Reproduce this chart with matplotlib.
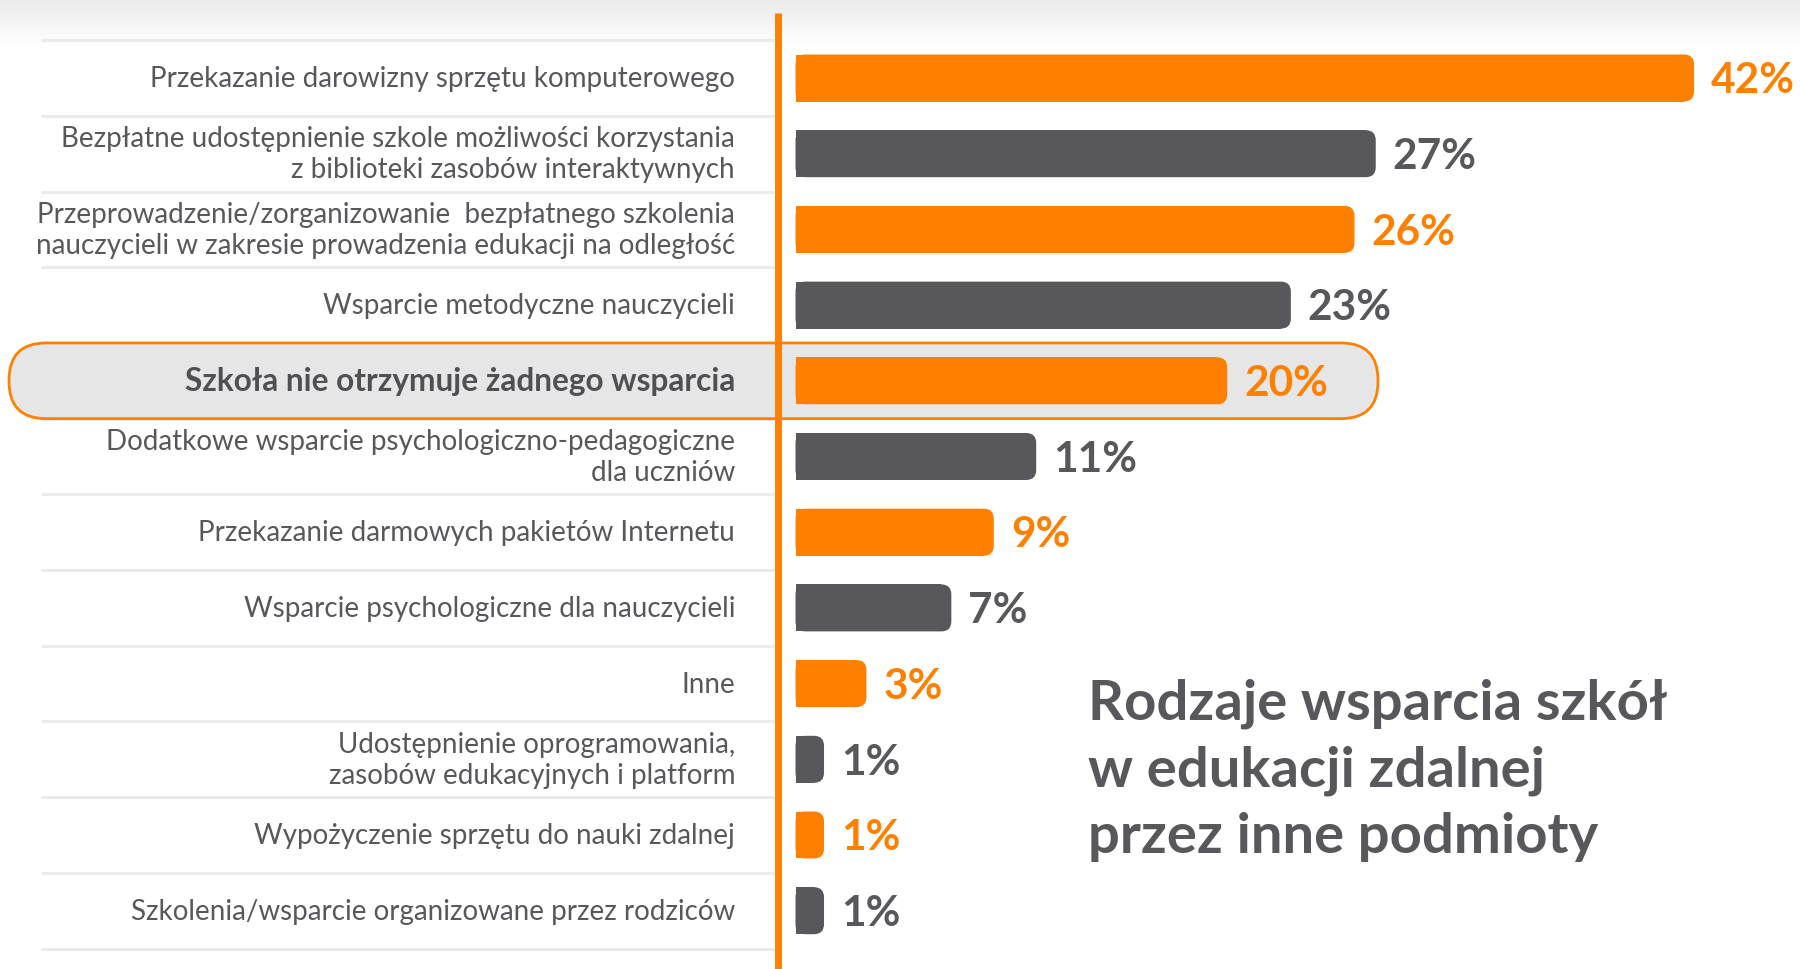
import matplotlib
matplotlib.use("Agg")
import matplotlib.pyplot as plt
from matplotlib.patches import FancyBboxPatch
import numpy as np

# ---------------- data ----------------
categories = [
    "Przekazanie darowizny sprzętu komputerowego",
    "Bezpłatne udostępnienie szkole możliwości korzystania\nz biblioteki zasobów interaktywnych",
    "Przeprowadzenie/zorganizowanie  bezpłatnego szkolenia\nnauczycieli w zakresie prowadzenia edukacji na odległość",
    "Wsparcie metodyczne nauczycieli",
    "Szkoła nie otrzymuje żadnego wsparcia",
    "Dodatkowe wsparcie psychologiczno-pedagogiczne\ndla uczniów",
    "Przekazanie darmowych pakietów Internetu",
    "Wsparcie psychologiczne dla nauczycieli",
    "Inne",
    "Udostępnienie oprogramowania,\nzasobów edukacyjnych i platform",
    "Wypożyczenie sprzętu do nauki zdalnej",
    "Szkolenia/wsparcie organizowane przez rodziców",
]
values = [42, 27, 26, 23, 20, 11, 9, 7, 3, 1, 1, 1]
value_labels = ["42%", "27%", "26%", "23%", "20%", "11%", "9%", "7%", "3%", "1%", "1%", "1%"]
highlight_index = 4
title_lines = ["Rodzaje wsparcia szkół", "w edukacji zdalnej", "przez inne podmioty"]

# ---------------- style ----------------
ORANGE = "#FF8000"
DARK = "#58575C"
TEXT = "#58585C"
SEP = "#EBEBEB"
HL_FILL = "#E6E6E6"
bar_colors = [ORANGE if i % 2 == 0 else DARK for i in range(len(values))]

plt.rcParams["font.family"] = ["Lato", "DejaVu Sans"]

W, H, DPI = 1800, 970, 100
PXX = 21.22      # pixels per percent
X0 = 802.8       # pixel position of 0 %
ROWPX = 75.7     # pixels per row
ROW0 = 79.0      # pixel centre of first row


def dx(p):
    return (p - X0) / PXX


def dy(p):
    return (p - ROW0) / ROWPX


fig = plt.figure(figsize=(W / DPI, H / DPI), dpi=DPI)
fig.patch.set_facecolor("white")

# top shadow gradient
gax = fig.add_axes([0, 1 - 48 / H, 1, 48 / H], zorder=0)
grad = np.linspace(0.92, 1.0, 48)
img = np.dstack([grad, grad, grad]).reshape(48, 1, 3)
gax.imshow(img, aspect="auto", extent=[0, 1, 0, 1], interpolation="bilinear")
gax.axis("off")

ax = fig.add_axes([0, 0, 1, 1], zorder=1)
ax.patch.set_alpha(0)
ax.set_xlim(dx(0), dx(W))
ax.set_ylim(dy(H), dy(0))
ax.axis("off")

n = len(values)
rows = np.arange(n)
aspect = PXX / ROWPX

# separators
for i in range(n + 1):
    y = i - 0.5
    ax.plot([dx(41), dx(774)], [y, y], color=SEP, lw=2.2, solid_capstyle="butt", zorder=1)

# highlight pill
hl_x0, hl_x1 = dx(9), dx(1378)
pill = FancyBboxPatch((hl_x0, highlight_index - 0.5), hl_x1 - hl_x0, 1.0,
                      boxstyle="round,pad=0,rounding_size=%f" % (37 / PXX),
                      mutation_aspect=aspect, facecolor=HL_FILL, edgecolor=ORANGE,
                      lw=2.0, zorder=2)
ax.add_patch(pill)

# vertical orange line
ax.plot([dx(778), dx(778)], [dy(14), dy(H)], color=ORANGE, lw=5.0,
        solid_capstyle="butt", zorder=5)

# bars
lead = (X0 - 795.5) / PXX
bar_h = 47 / ROWPX
r = 10 / PXX
bars = ax.barh(rows, [v + lead for v in values], left=-lead, height=bar_h,
               color=bar_colors, lw=0, zorder=3)
for rect, c in zip(bars, bar_colors):
    x, y, w, h = rect.get_x(), rect.get_y(), rect.get_width(), rect.get_height()
    ax.add_patch(FancyBboxPatch((x, y), w, h,
                                boxstyle="round,pad=0,rounding_size=%f" % r,
                                mutation_aspect=aspect, facecolor=c, lw=0, zorder=3))
    rect.set_width(w - r)

# value labels
for i, (v, lab, c) in enumerate(zip(values, value_labels, bar_colors)):
    ax.text(v + 17 / PXX, i + 0.03, lab, color=c, fontsize=30.5, fontweight="bold",
            va="center", ha="left", zorder=4)

# category labels
for i, cat in enumerate(categories):
    if i == highlight_index:
        ax.text(dx(735), i, cat, ha="right", va="center", fontsize=22.8,
                fontweight="bold", color="#505054", zorder=4)
    else:
        ax.text(dx(735), i, cat, ha="right", va="center", fontsize=20,
                color=TEXT, linespacing=1.22, zorder=4)

# title
for j, (line, base) in enumerate(zip(title_lines, [720, 787, 853])):
    ax.text(dx(1088), dy(base), line, ha="left", va="baseline", fontsize=40.5,
            fontweight="bold", color=TEXT, zorder=4)

fig.savefig("out.png", dpi=DPI, facecolor="white")
